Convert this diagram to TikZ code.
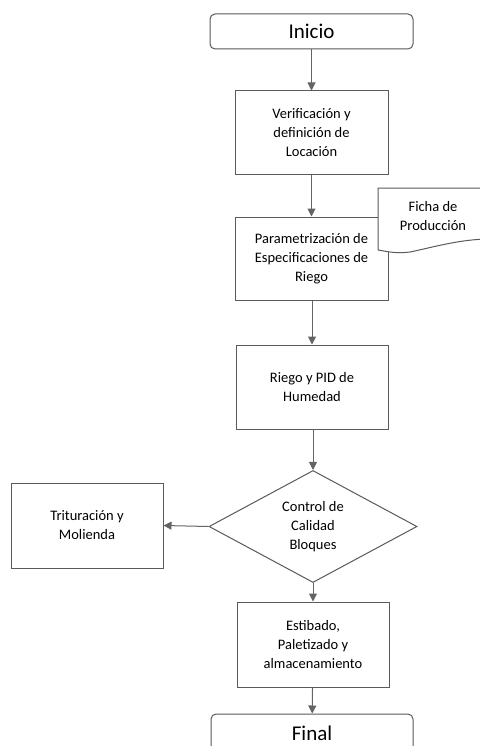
\documentclass[tikz,border=0pt]{standalone}
\usepackage{fontspec}
\setmainfont{Carlito}
\usetikzlibrary{shapes.geometric,arrows.meta}
\definecolor{ln}{HTML}{646464}
\definecolor{bd}{HTML}{5A5A5A}
\tikzset{
  box/.style={draw=bd, line width=1pt, fill=white, rectangle, inner sep=0pt, align=center, font=\fontsize{14.5}{19}\selectfont},
  term/.style={draw=bd, line width=1pt, fill=white, rectangle, rounded corners=5pt, inner sep=0pt, align=center, font=\fontsize{21}{24}\selectfont},
  decis/.style={draw=bd, line width=1pt, fill=white, diamond, inner sep=0pt, align=center, font=\fontsize{14.5}{19}\selectfont},
  conn/.style={draw=ln, line width=1pt, -{Triangle[length=8pt,width=8pt]}},
}
\begin{document}
\begin{tikzpicture}[x=1pt,y=-1pt]
\useasboundingbox (0,0) rectangle (479,746);
\fill[white] (0,0) rectangle (479,746);
\node[term, minimum width=203pt, minimum height=35pt] (inicio) at (311.5,31.5) {Inicio};
\node[box, minimum width=153pt, minimum height=84pt] (b1) at (311.5,133) {Verificación y\\definición de\\Locación};
\node[box, minimum width=153pt, minimum height=83pt] (b2) at (311.5,258.5) {Parametrización de\\Especificaciones de\\Riego};
\node[box, minimum width=152pt, minimum height=84pt] (b3) at (312,387) {Riego y PID de\\Humedad};
\node[decis, minimum width=208pt, minimum height=95pt] (dq) at (313,526.5) {Control de\\Calidad\\Bloques};
\node[box, minimum width=152pt, minimum height=85pt] (tr) at (87,525.5) {Trituración y\\Molienda};
\node[box, minimum width=152pt, minimum height=85pt] (b4) at (313,644.5) {Estibado,\\Paletizado y\\almacenamiento};
\node[term, minimum width=202pt, minimum height=38pt] (final) at (312,733) {Final};
% document shape
\draw[draw=bd, line width=1pt, fill=white] (378,250) -- (378,188) -- (490,188) -- (490,239)
  .. controls (460,239) and (430,248) .. (410,252)
  .. controls (395,254) and (385,251) .. (378,250);
\node[align=center, font=\fontsize{14.5}{19}\selectfont, inner sep=0pt] (ficha) at (433,216) {Ficha de\\Producción};
\draw[conn] (inicio) -- (b1);
\draw[conn] (b1) -- (b2);
\draw[conn] (b2.south -| b3.north) -- (b3);
\draw[conn] (b3.south -| dq.north) -- (dq.north);
\draw[conn] (dq.west) -- (tr.east);
\draw[conn] (dq.south) -- (b4.north -| dq.south);
\draw[conn] (b4) -- (final);
\end{tikzpicture}
\end{document}
